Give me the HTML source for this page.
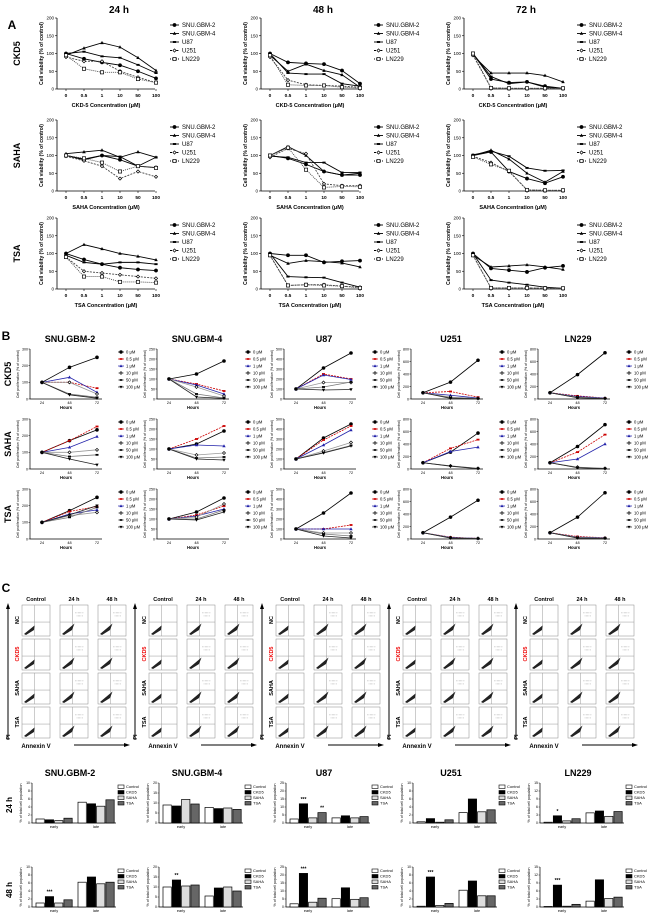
<!DOCTYPE html>
<html><head><meta charset="utf-8">
<style>
html,body{margin:0;padding:0;background:#fff;}
svg{display:block;font-family:"Liberation Sans",Arial,sans-serif;}
</style></head>
<body>
<svg id="fig" width="650" height="921" viewBox="0 0 650 921" xmlns="http://www.w3.org/2000/svg"></svg>
<script>
// ---------- Panel A data ----------
const aTimes = ["24 h","48 h","72 h"];
const aDrugs = ["CKD5","SAHA","TSA"];
const aXLabels = ["CKD-5 Concentration (\u03bcM)","SAHA Concentration (\u03bcM)","TSA Concentration (\u03bcM)"];
const aConc = ["0","0.5","1","10","50","100"];
const aSeries = ["SNU.GBM-2","SNU.GBM-4","U87","U251","LN229"];
const aYTicks = [0,50,100,150,200];
const aCKD5_24 = [[100,85,75,67,50,30],[95,115,130,118,88,52],[100,105,92,88,68,45],[90,78,78,50,33,18],[95,57,47,47,28,18]];
const aCKD5_48 = [[100,75,72,70,52,15],[95,50,70,52,40,5],[100,45,42,42,15,8],[90,25,12,10,8,5],[95,12,10,10,5,3]];
const aCKD5_72 = [[100,28,18,20,8,2],[95,45,45,45,38,20],[100,35,15,20,5,2],[95,3,2,2,2,2],[100,3,2,2,2,2]];
const aSAHA_24 = [[100,88,100,88,70,66],[105,110,115,95,110,95],[100,90,100,97,70,95],[98,85,70,35,55,40],[100,92,80,55,70,65]];
const aSAHA_48 = [[100,92,75,55,45,45],[100,125,100,55,45,50],[98,95,80,80,52,52],[95,120,105,20,15,15],[100,122,60,10,13,12]];
const aSAHA_72 = [[100,110,55,35,22,40],[100,115,90,50,25,55],[102,112,98,65,57,58],[98,80,55,3,2,2],[96,75,57,3,2,2]];
const aTSA_24 = [[100,83,70,60,55,52],[100,125,113,100,92,82],[95,75,70,75,75,70],[90,50,45,40,35,30],[90,35,35,20,20,18]];
const aTSA_48 = [[100,95,95,75,78,80],[95,72,80,77,73,62],[100,35,33,32,18,5],[95,10,12,12,8,5],[95,10,12,10,8,3]];
const aTSA_72 = [[100,58,53,48,60,65],[95,62,65,68,62,55],[100,25,18,12,5,2],[95,3,3,3,2,2],[95,3,3,3,2,2]];
const aValues = [[aCKD5_24,aCKD5_48,aCKD5_72],[aSAHA_24,aSAHA_48,aSAHA_72],[aTSA_24,aTSA_48,aTSA_72]];

// ---------- Panel B data ----------
const bCells = ["SNU.GBM-2","SNU.GBM-4","U87","U251","LN229"];
const bHours = [24,48,72];
const bDoses = ["0 \u03bcM","0.5 \u03bcM","1 \u03bcM","10 \u03bcM","50 \u03bcM","100 \u03bcM"];
const bYMax = [300,250,500,800,800];
const bYTicks2 = [0,100,200,300];
const bYTicks4 = [0,50,100,150,200,250];
const bYTicks5 = [0,100,200,300,400,500];
const bYTicks8 = [0,200,400,600,800];
const bCKD5 = [
 [[190,250],[100,65],[130,40],[100,30],[30,10],[25,5]],
 [[125,190],[75,40],[70,25],[60,15],[25,5],[10,3]],
 [[310,460],[250,200],[240,195],[165,165],[120,170],[90,95]],
 [[270,620],[120,30],[60,15],[30,10],[20,5],[10,3]],
 [[390,740],[50,15],[40,15],[30,10],[20,10],[20,5]]];
const bSAHA = [
 [[170,235],[170,255],[130,195],[100,115],[75,85],[60,25]],
 [[125,190],[150,215],[120,115],[70,80],[55,60],[50,45]],
 [[310,450],[290,430],[240,390],[180,265],[165,235],[160,230]],
 [[270,575],[330,470],[280,350],[50,10],[50,10],[45,5]],
 [[360,710],[270,550],[160,400],[30,10],[25,10],[20,5]]];
const bTSA = [
 [[170,250],[165,195],[150,175],[140,160],[130,190],[145,200]],
 [[135,205],[120,165],[115,150],[110,175],[100,145],[95,135]],
 [[260,460],[100,140],[100,100],[60,60],[50,30],[30,10]],
 [[350,620],[30,10],[25,10],[20,10],[20,5],[15,5]],
 [[350,740],[40,20],[30,20],[25,15],[20,10],[15,10]]];
const bValues = [bCKD5,bSAHA,bTSA];

// ---------- Panel C bar data ----------
const cGroups = ["early","late"];
const cTreat = ["Control","CKD5","SAHA","TSA"];
const cYMax = [10,20,25,10,15];
const c24Early = [[1.0,0.8,0.6,1.2],[9,8.5,11.8,9.5],[2.5,12,3.2,6.5],[0.3,1.1,0.2,0.8],[0.3,2.7,0.8,1.6]];
const c24Late  = [[5.2,4.8,4.2,5.8],[7.8,7.2,7.5,6.8],[3.2,4.5,3.2,4],[2.6,6,2.8,3.3],[3.8,4.5,2.5,4.3]];
const c48Early = [[1,2.6,1,1.8],[10,13.5,10.5,11],[2,21,3,5.5],[0.2,7.5,0.4,0.9],[0.2,8.2,0.3,1]];
const c48Late  = [[6.2,7.5,5.8,6.2],[5.5,9.5,10,8],[5.2,12,4.8,5.8],[4.2,6.5,2.8,2.8],[2.2,10.2,3.2,3.7]];
const c24Stars = [["","","",""],["","","",""],["","***","","**"],["","","",""],["","*","",""]];
const c48Stars = [["","***","",""],["","**","",""],["","***","",""],["","***","",""],["","***","",""]];

const NS="http://www.w3.org/2000/svg";
const svg=document.getElementById('fig');
function mk(tag,attrs,parent){const e=document.createElementNS(NS,tag);for(const k in attrs)e.setAttribute(k,attrs[k]);(parent||svg).appendChild(e);return e;}
function txt(x,y,s,size,opts,parent){opts=opts||{};const e=mk('text',{x:x,y:y,'font-size':size,'text-anchor':opts.anchor||'middle','font-weight':opts.bold?'bold':'normal',fill:opts.fill||'#000'},parent);if(opts.rot)e.setAttribute('transform','rotate(-90 '+x+' '+y+')');e.textContent=s;return e;}
function marker(g,type,x,y,size,stroke){
  const s=size;let e;
  if(type==='circle'){e=mk('circle',{cx:x,cy:y,r:s,fill:stroke,stroke:stroke,'stroke-width':0.6},g);}
  else if(type==='tri'){e=mk('polygon',{points:(x)+','+(y-s*1.2)+' '+(x-s*1.1)+','+(y+s*0.8)+' '+(x+s*1.1)+','+(y+s*0.8),fill:stroke},g);}
  else if(type==='square'){e=mk('rect',{x:x-s,y:y-s*0.6,width:s*2,height:s*1.2,fill:stroke},g);}
  else if(type==='osquare'){e=mk('rect',{x:x-s,y:y-s,width:s*2,height:s*2,fill:'#fff',stroke:stroke,'stroke-width':0.7},g);}
  else if(type==='diamond'){e=mk('polygon',{points:x+','+(y-s)+' '+(x+s)+','+y+' '+x+','+(y+s)+' '+(x-s)+','+y,fill:'#fff',stroke:stroke,'stroke-width':0.7},g);}
  else if(type==='tdown'){e=mk('polygon',{points:(x)+','+(y+s*1.2)+' '+(x-s*1.1)+','+(y-s*0.8)+' '+(x+s*1.1)+','+(y-s*0.8),fill:stroke},g);}
  return e;
}

// ---------- Section A ----------
txt(12,29,'A',12,{bold:true});
const aColX=[57,261,464], aRowTop=[18,120,218], aH=71, aW=98;
const aStyle=[{m:'circle',d:''},{m:'tri',d:''},{m:'square',d:''},{m:'diamond',d:'2,1.2'},{m:'osquare',d:'1,1'}];
for(let t=0;t<3;t++){ txt(aColX[t]+62,13,aTimes[t],10,{bold:true}); }
for(let d=0;d<3;d++){
  const rl=txt(20,aRowTop[d]+aH/2,aDrugs[d],9,{bold:true,rot:true});
  
  
  for(let t=0;t<3;t++){
    const g=mk('g',{});
    
    
    const x0=aColX[t], y0=aRowTop[d];
    const yS=v=>y0+aH-v/200*aH;
    const xS=i=>x0+9+i*18;
    mk('line',{x1:x0,y1:y0,x2:x0,y2:y0+aH,stroke:'#000','stroke-width':0.8},g);
    mk('line',{x1:x0,y1:y0+aH,x2:x0+aW,y2:y0+aH,stroke:'#000','stroke-width':0.8},g);
    aYTicks.forEach(v=>{mk('line',{x1:x0-2,y1:yS(v),x2:x0,y2:yS(v),stroke:'#000','stroke-width':0.6},g);txt(x0-3,yS(v)+1.6,String(v),4.5,{anchor:'end'},g);});
    aConc.forEach((c,i)=>{mk('line',{x1:xS(i),y1:y0+aH,x2:xS(i),y2:y0+aH+2,stroke:'#000','stroke-width':0.6},g);txt(xS(i),y0+aH+8,c,4.8,{bold:true},g);});
    txt(x0+aW/2,y0+aH+18,aXLabels[d],5.5,{bold:true},g);
    txt(x0-14,y0+aH/2,'Cell viability (% of control)',5,{bold:true,rot:true},g);
    const vals=aValues[d][t];
    vals.forEach((ser,s)=>{
      const pts=ser.map((v,i)=>xS(i)+','+yS(v)).join(' ');
      const pl=mk('polyline',{points:pts,fill:'none',stroke:s>=3?'#444':'#000','stroke-width':0.9},g);
      if(aStyle[s].d)pl.setAttribute('stroke-dasharray',aStyle[s].d);
      
      
      ser.forEach((v,i)=>{marker(g,aStyle[s].m,xS(i),yS(v),1.6,'#000');});
    });
    const lg=mk('g',{});
    
    
    aSeries.forEach((n,s)=>{
      const ly=y0+7+s*8.5, lx=x0+113;
      const l=mk('line',{x1:lx,y1:ly,x2:lx+9,y2:ly,stroke:'#000','stroke-width':0.9},lg);
      if(aStyle[s].d)l.setAttribute('stroke-dasharray',aStyle[s].d);
      marker(lg,aStyle[s].m,lx+4.5,ly,1.6,'#000');
      txt(lx+12,ly+2,n,6,{anchor:'start'},lg);
    });
  }
}

// ---------- Section B ----------
txt(6,340,'B',12,{bold:true});
const bRowTop=[349,419,489], bH=50, P=127;
const bStyle=[{m:'circle',c:'#000',l:'#000',d:''},{m:'square',c:'#c00',l:'#c00',d:'2,1'},{m:'tri',c:'#22a',l:'#22a',d:''},{m:'diamond',c:'#000',l:'#999',d:''},{m:'square',c:'#000',l:'#777',d:''},{m:'tdown',c:'#000',l:'#222',d:''}];
const bTickSets=[bYTicks2,bYTicks4,bYTicks5,bYTicks8,bYTicks8];
bCells.forEach((c,ci)=>{ txt(ci*P+70,342,c,9,{bold:true}); });
for(let d=0;d<3;d++){
  const rl=txt(11,bRowTop[d]+bH/2,aDrugs[d],9,{bold:true,rot:true});
  
  
  for(let ci=0;ci<5;ci++){
    const g=mk('g',{});
    
    
    const x0=ci*P+30, y0=bRowTop[d], ymax=bYMax[ci];
    const yS=v=>y0+bH-v/ymax*bH;
    const xS=h=>x0+12+(h-24)/48*55;
    mk('line',{x1:x0,y1:y0,x2:x0,y2:y0+bH,stroke:'#000','stroke-width':0.7},g);
    mk('line',{x1:x0,y1:y0+bH,x2:x0+72,y2:y0+bH,stroke:'#000','stroke-width':0.7},g);
    bTickSets[ci].forEach(v=>{mk('line',{x1:x0-1.5,y1:yS(v),x2:x0,y2:yS(v),stroke:'#000','stroke-width':0.5},g);txt(x0-2,yS(v)+1.3,String(v),3.6,{anchor:'end'},g);});
    bHours.forEach(h=>{txt(xS(h),y0+bH+5,String(h),3.8,{},g);});
    txt(x0+36,y0+bH+10,'Hours',4.2,{bold:true},g);
    txt(x0-11,y0+bH/2,'Cell proliferation (% of control)',3.6,{rot:true},g);
    bValues[d][ci].forEach((ser,s)=>{
      const vals=[100].concat(ser);
      const pts=vals.map((v,i)=>xS(bHours[i])+','+yS(v)).join(' ');
      const pl=mk('polyline',{points:pts,fill:'none',stroke:bStyle[s].l,'stroke-width':0.8},g);
      if(bStyle[s].d)pl.setAttribute('stroke-dasharray',bStyle[s].d);
      
      
      vals.forEach((v,i)=>marker(g,bStyle[s].m,xS(bHours[i]),yS(v),1.5,bStyle[s].c));
    });
    bDoses.forEach((n,s)=>{
      const lx=x0+88, ly=y0+3+s*7;
      mk('line',{x1:lx,y1:ly,x2:lx+6,y2:ly,stroke:bStyle[s].l,'stroke-width':0.7},g);
      marker(g,bStyle[s].m,lx+3,ly,1.4,bStyle[s].c);
      txt(lx+8,ly+1.6,n,4.2,{anchor:'start'},g);
    });
  }
}

// ---------- Section C flow ----------
txt(6,592,'C',12,{bold:true});
const fCols=["Control","24 h","48 h"], fRows=["NC","CKD5","SAHA","TSA"];
const fPX=[22,60,98], fRowY=[605,639,673,707];
for(let ci=0;ci<5;ci++){
  const bx=ci*P;
  fCols.forEach((c,j)=>txt(bx+fPX[j]+14,601,c,5.5,{bold:true}));
  mk('line',{x1:bx+8,y1:740,x2:bx+8,y2:607,stroke:'#000','stroke-width':1});
  mk('polygon',{points:(bx+8)+',603 '+(bx+6)+',609 '+(bx+10)+',609',fill:'#000'});
  txt(bx+10,737,'PI',5.5,{bold:true,rot:true});
  txt(bx+36,748,'Annexin V',6,{bold:true});
  mk('line',{x1:bx+74,y1:745,x2:bx+126,y2:745,stroke:'#000','stroke-width':1});
  mk('polygon',{points:(bx+130)+',745 '+(bx+124)+',743 '+(bx+124)+',747',fill:'#000'});
  fRows.forEach((r,ri)=>{
    txt(bx+19,fRowY[ri]+15,r,5.5,{bold:true,rot:true,fill:r==='CKD5'?'#e00':'#000'});
    fCols.forEach((c,j)=>{
      const g=mk('g',{});
      
      
      const px=bx+fPX[j], py=fRowY[ri], w=28, h=31;
      mk('rect',{x:px,y:py,width:w,height:h,fill:'#fff',stroke:'#888','stroke-width':0.5},g);
      mk('line',{x1:px+w*0.45,y1:py,x2:px+w*0.45,y2:py+h,stroke:'#999','stroke-width':0.5},g);
      mk('line',{x1:px,y1:py+h*0.55,x2:px+w,y2:py+h*0.55,stroke:'#999','stroke-width':0.5},g);
      const spread=j===0?1.5:3.5;
      mk('polygon',{points:(px+2)+','+(py+h-2)+' '+(px+11+spread)+','+(py+h-9-spread)+' '+(px+12)+','+(py+h-6)+' '+(px+4)+','+(py+h-1),fill:'#222'},g);
      if(j>0){
        mk('path',{d:'M'+(px+w*0.55)+' '+(py+h*0.25)+' h8 M'+(px+w*0.6)+' '+(py+h*0.35)+' h6',stroke:'#aaa','stroke-width':1,'stroke-dasharray':'0.5,0.8'},g);
      }
    });
  });
}

// ---------- Section C bars ----------
const cRowTop=[783,867], cH=40;
const cFill=['#fff','#000','#ddd','#666'];
txt(12,805,'24 h',8,{bold:true,rot:true});
txt(12,890,'48 h',8,{bold:true,rot:true});
bCells.forEach((c,ci)=>{ txt(ci*P+70,776,c,9,{bold:true}); });
const cEarly=[c24Early,c48Early], cLate=[c24Late,c48Late], cStars=[c24Stars,c48Stars];
for(let r=0;r<2;r++){
  for(let ci=0;ci<5;ci++){
    const g=mk('g',{});
    
    
    const x0=ci*P+32, y0=cRowTop[r], ymax=cYMax[ci];
    const yS=v=>y0+cH-v/ymax*cH;
    mk('line',{x1:x0,y1:y0,x2:x0,y2:y0+cH,stroke:'#000','stroke-width':0.7},g);
    mk('line',{x1:x0,y1:y0+cH,x2:x0+84,y2:y0+cH,stroke:'#000','stroke-width':0.7},g);
    const step=ymax/ (ymax===20?4:5);
    for(let v=0;v<=ymax+0.001;v+=step){txt(x0-2,yS(v)+1.2,String(Math.round(v)),3.5,{anchor:'end'},g);mk('line',{x1:x0-1.5,y1:yS(v),x2:x0,y2:yS(v),stroke:'#000','stroke-width':0.4},g);}
    txt(x0-10,y0+cH/2,'% of total cell population',3.6,{rot:true},g);
    [cEarly[r][ci],cLate[r][ci]].forEach((grp,gi)=>{
      const gx=x0+4+gi*42;
      grp.forEach((v,k)=>{
        const b=mk('rect',{x:gx+k*9.3,y:yS(v),width:8.3,height:Math.max(0.3,y0+cH-yS(v)),fill:cFill[k],stroke:'#000','stroke-width':0.7},g);
        
        
        if(gi===0 && cStars[r][ci][k]) txt(gx+k*9.3+4.2,yS(v)-3,cStars[r][ci][k],5,{bold:true},g);
      });
      txt(gx+18,y0+cH+5,cGroups[gi],3.8,{},g);
    });
    cTreat.forEach((n,k)=>{
      const lx=x0+86, ly=y0+2+k*5.5;
      mk('rect',{x:lx,y:ly,width:6,height:3.5,fill:cFill[k],stroke:'#000','stroke-width':0.6},g);
      txt(lx+8,ly+3,n,4,{anchor:'start'},g);
    });
  }
}
</script>
</body></html>
